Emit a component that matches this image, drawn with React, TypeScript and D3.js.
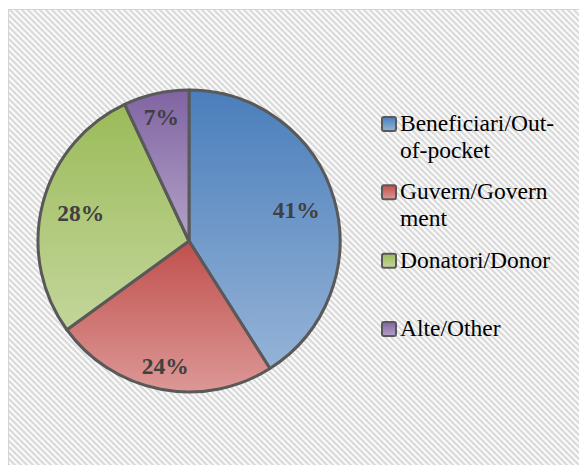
import React from 'react';
import * as d3 from 'd3';

// chart values
const categories = ['Beneficiari/Out-of-pocket', 'Guvern/Government', 'Donatori/Donor', 'Alte/Other'];
const shares = [41, 24, 28, 7];
const legendLines = [['Beneficiari/Out-', 'of-pocket'], ['Guvern/Govern', 'ment'], ['Donatori/Donor'], ['Alte/Other']];
const topColors = ['#4a7ebb', '#c0504d', '#9bbb59', '#8064a2'];
const bottomColors = ['#95b3d7', '#dc9896', '#c3d69b', '#b3a2c7'];

const W = 579;
const H = 465;
const cx = 189;
const cy = 241;
const r = 151;
const serif = "'Liberation Serif', 'Times New Roman', serif";

const pie = d3.pie<number>().sort(null).startAngle(0).endAngle(2 * Math.PI);
const arc = d3.arc<d3.PieArcDatum<number>>().innerRadius(0).outerRadius(r);

// Excel's "best fit" puts labels of near vertical slices further out
const labelPos = (d: d3.PieArcDatum<number>) => {
  const mid = (d.startAngle + d.endAngle) / 2;
  const k = Math.abs(Math.cos(mid)) > 0.9 ? 0.84 : 0.74;
  return [cx + Math.sin(mid) * r * k, cy - Math.cos(mid) * r * k];
};

const legendY = d3.scaleLinear().domain([0, categories.length - 1]).range([131, 336]);

export default function App() {
  const arcs = pie(shares);
  return (
    <svg width={W} height={H} style={{ position: 'absolute', left: 0, top: 0 }}>
      <defs>
        <pattern id="hatch" patternUnits="userSpaceOnUse" width={6} height={6}>
          <rect width={6} height={6} fill="#ffffff" />
          <path d="M-1,-1 L7,7 M-4,2 L2,8 M4,-2 L8,2" stroke="#dcdcdc" strokeWidth={2.6} />
        </pattern>
        {categories.map((c, i) => (
          <linearGradient key={c} id={'g' + i} x1="0" y1="0" x2="0" y2="1">
            <stop offset="0" stopColor={topColors[i]} />
            <stop offset="1" stopColor={bottomColors[i]} />
          </linearGradient>
        ))}
      </defs>
      <rect x={0} y={0} width={W} height={H} fill="#ffffff" />
      <rect x={8.5} y={9.5} width={W} height={H} fill="url(#hatch)" stroke="#d4d4d4" strokeWidth={1} />

      <g transform={`translate(${cx},${cy})`}>
        {arcs.map((d, i) => (
          <path key={i} d={arc(d) || ''} fill={`url(#g${i})`} stroke="#595959" strokeWidth={3} strokeLinejoin="round" />
        ))}
      </g>
      {arcs.map((d, i) => {
        const [x, y] = labelPos(d);
        return (
          <text key={i} x={x} y={y} dy="0.35em" textAnchor="middle"
            fontFamily={serif} fontWeight="bold" fontSize={23.5} fill="#404040">
            {d.data + '%'}
          </text>
        );
      })}

      {categories.map((c, i) => {
        const y = legendY(i);
        return (
          <g key={c}>
            <rect x={382} y={y - 14} width={14} height={14} rx={2} fill={`url(#g${i})`} stroke="#595959" strokeWidth={2} />
            <text x={400} y={y} fontFamily={serif} fontSize={23.5} fill="#000">
              {legendLines[i].map((t, j) => (
                <tspan key={j} x={400} dy={j === 0 ? 0 : 27}>{t}</tspan>
              ))}
            </text>
          </g>
        );
      })}
    </svg>
  );
}
